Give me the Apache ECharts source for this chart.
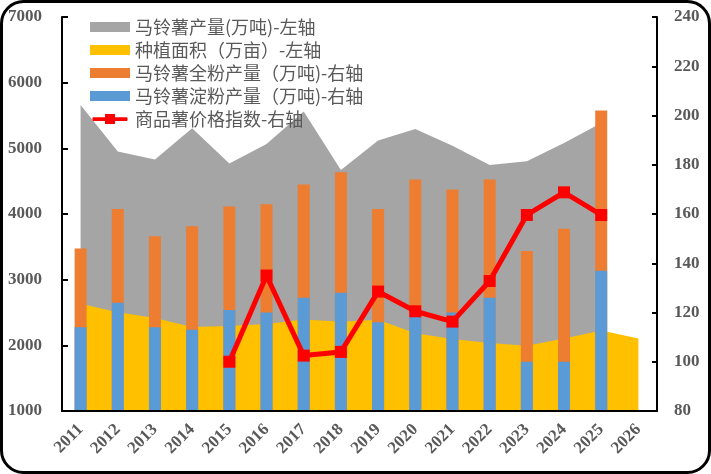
<!DOCTYPE html>
<html>
<head>
<meta charset="utf-8">
<script src="https://cdn.jsdelivr.net/npm/echarts@6/dist/echarts.min.js"></script>
<style>html,body{margin:0;padding:0;background:#fff;}#c{width:711px;height:474px;}</style>
</head>
<body>
<div id="c"></div>
<script>
var years = ['2011','2012','2013','2014','2015','2016','2017','2018','2019','2020','2021','2022','2023','2024','2025','2026'];
var production = [5660,4950,4830,5305,4770,5065,5560,4670,5120,5295,5040,4745,4805,5080,5385,null];
var plantingArea = [2635,2505,2415,2280,2295,2325,2395,2360,2390,2185,2095,2035,1995,2105,2225,2105];
var fullPowder = [146,162,151,155,163,164,172,177,162,174,170,174,145,154,202,null];
var starch = [114,124,114,113,121,120,126,128,116,119,120,126,100,100,137,null];
var priceIndex = [null,null,null,null,100,135,102.5,104,128.5,120.5,116.3,132.8,159.6,168.8,159.6,null];
var names = ['马铃薯产量(万吨)-左轴','种植面积（万亩）-左轴','马铃薯全粉产量（万吨)-右轴','马铃薯淀粉产量（万吨)-右轴','商品薯价格指数-右轴'];

var axisFont = {fontFamily:'Liberation Serif, Times New Roman, serif', fontWeight:'bold', fontSize:17, color:'#595959'};
var chart = echarts.init(document.getElementById('c'));
chart.setOption({
  animation:false,
  backgroundColor:'#fff',
  grid:{left:62,right:54,top:17,bottom:63},
  legend:{
    orient:'vertical', left:85, top:13, itemGap:5, itemWidth:40, itemHeight:10, z:20,
    textStyle:{fontFamily:'Noto Sans CJK SC, sans-serif', fontSize:18, color:'#595959'},
    data:[
      {name:names[0], icon:'rect'},
      {name:names[1], icon:'rect'},
      {name:names[2], icon:'rect'},
      {name:names[3], icon:'rect'},
      {name:names[4], icon:'path://M1,4 L42,4 Q43.5,6.2 42,8.5 L1,8.5 Q-0.5,6.2 1,4 Z M15.5,0 L27.5,0 L27.5,12 L15.5,12 Z'}
    ]
  },
  xAxis:{
    type:'category', data:years, boundaryGap:true, z:10,
    axisLine:{lineStyle:{color:'#000',width:2}},
    axisTick:{inside:true,length:5,interval:0,lineStyle:{color:'#000',width:2}},
    axisLabel:Object.assign({rotate:45, margin:16, interval:0}, axisFont)
  },
  yAxis:[
    {type:'value', min:1000, max:7000, interval:1000, z:10,
     splitLine:{show:false},
     axisLine:{show:true,lineStyle:{color:'#000',width:2}},
     axisTick:{show:true,inside:true,length:6,lineStyle:{color:'#000',width:2}},
     axisLabel:Object.assign({margin:20, formatter:function(v){return String(v);}}, axisFont)},
    {type:'value', min:80, max:240, interval:20, position:'right', z:10,
     splitLine:{show:false},
     axisLine:{show:true,lineStyle:{color:'#000',width:2}},
     axisTick:{show:true,inside:true,length:5,lineStyle:{color:'#000',width:2}},
     axisLabel:Object.assign({margin:17}, axisFont)}
  ],
  graphic:[{type:'rect', z:100, silent:true, shape:{x:1.5,y:1.5,width:708,height:471,r:22}, style:{fill:'none',stroke:'#000',lineWidth:3}}],
  series:[
    {name:names[0], type:'line', yAxisIndex:0, data:production, symbol:'none', z:1,
     lineStyle:{width:0,color:'#A5A5A5'}, itemStyle:{color:'#A5A5A5'},
     areaStyle:{color:'#A5A5A5',opacity:1,origin:'start'}},
    {name:names[1], type:'line', yAxisIndex:0, data:plantingArea, symbol:'none', z:2,
     lineStyle:{width:0,color:'#FFC000'}, itemStyle:{color:'#FFC000'},
     areaStyle:{color:'#FFC000',opacity:1,origin:'start'}},
    {name:names[2], type:'bar', yAxisIndex:1, data:fullPowder, barWidth:12, barGap:'-100%', z:3,
     itemStyle:{color:'#ED7D31'}},
    {name:names[3], type:'bar', yAxisIndex:1, data:starch, barWidth:12, barGap:'-100%', z:4,
     itemStyle:{color:'#5B9BD5'}},
    {name:names[4], type:'line', yAxisIndex:1, data:priceIndex, symbol:'rect', symbolSize:12, z:5,
     lineStyle:{width:5,color:'#FF0000'}, itemStyle:{color:'#FF0000'}}
  ]
});
</script>
</body>
</html>
